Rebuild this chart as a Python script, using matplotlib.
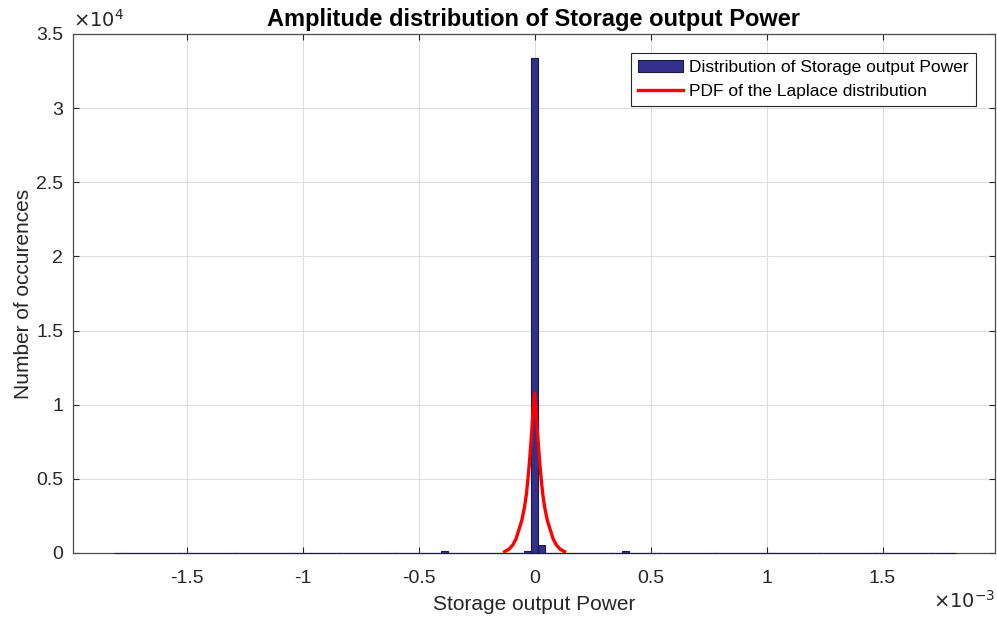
import matplotlib.pyplot as plt
import numpy as np
from matplotlib.ticker import FuncFormatter

plt.rcParams['font.family'] = ['Liberation Sans', 'DejaVu Sans']

# histogram: bins cover -1.8e-3 .. 1.8e-3, only a few are non-empty
hist_min = -1.8e-3
hist_max = 1.8e-3
bin_width = 0.03e-3
nonzero_centers = [-0.39e-3, -0.03e-3, 0.0, 0.03e-3, 0.39e-3]
nonzero_counts = [150, 150, 33350, 520, 160]

# Laplace PDF (scaled to counts)
laplace_x = [-0.129e-3, -0.110e-3, -0.094e-3, -0.080e-3, -0.068e-3, -0.055e-3,
             -0.043e-3, -0.035e-3, -0.029e-3, -0.023e-3, -0.017e-3, -0.012e-3,
             -0.007e-3, -0.003e-3, 0.0,
             0.003e-3, 0.007e-3, 0.012e-3, 0.017e-3, 0.023e-3, 0.029e-3,
             0.035e-3, 0.043e-3, 0.055e-3,
             0.068e-3, 0.080e-3, 0.094e-3, 0.110e-3, 0.129e-3]
laplace_y = [90, 260, 540, 950, 1550, 2200, 3120, 4000, 4920, 5950, 7170, 8250,
             9420, 10200, 10770,
             10200, 9420, 8250, 7170, 5950, 4920,
             4000, 3120, 2200, 1550, 950, 540, 260, 90]

n_bins = int(round((hist_max - hist_min) / bin_width)) + 1
centers = np.linspace(hist_min, hist_max, n_bins)
counts = np.zeros(n_bins)
for c, n in zip(nonzero_centers, nonzero_counts):
    counts[np.argmin(np.abs(centers - c))] = n

fig = plt.figure(figsize=(9.97, 6.18), dpi=100)
ax = fig.add_axes([0.0732, 0.1052, 0.9248, 0.8398])

bars = ax.bar(centers, counts, width=bin_width, color='#32308a',
              edgecolor='#1a1a40', linewidth=0.8, zorder=2.6, clip_on=False,
              label='Distribution of Storage output Power')
line, = ax.plot(laplace_x, laplace_y, color='red', linewidth=2.4,
                solid_joinstyle='round', zorder=3,
                label='PDF of the Laplace distribution')

ax.set_xlim(-1.99e-3, 1.985e-3)
ax.set_ylim(0, 3.5e4)
ax.set_xticks(np.arange(-1.5e-3, 1.51e-3, 0.5e-3))
ax.set_yticks(np.arange(0, 3.51e4, 0.5e4))
ax.xaxis.set_major_formatter(FuncFormatter(lambda v, p: f'{round(v / 1e-3, 3):g}'))
ax.yaxis.set_major_formatter(FuncFormatter(lambda v, p: f'{round(v / 1e4, 3):g}'))

ax.grid(True, color='#dedede', linewidth=0.8, zorder=0)
ax.set_axisbelow(True)
ax.tick_params(direction='in', top=True, right=True, length=4,
               labelsize=14, colors='#262626', labelcolor='#262626')
ax.tick_params(axis='x', pad=12)
ax.tick_params(axis='y', pad=7)
for s in ax.spines.values():
    s.set_color('#4d4d4d')
    s.set_linewidth(0.9)

ax.set_title('Amplitude distribution of Storage output Power',
             fontsize=17, fontweight='bold', pad=6)
ax.set_xlabel('Storage output Power', fontsize=15, color='#262626', labelpad=6)
ax.set_ylabel('Number of occurences', fontsize=15, color='#262626', labelpad=2)

ax.text(0.0, 1.006, r'$\times10^{4}$', transform=ax.transAxes,
        fontsize=14, va='bottom', ha='left', color='#262626',
        family='DejaVu Sans')
ax.text(1.0, -0.072, r'$\times10^{-3}$', transform=ax.transAxes,
        fontsize=14, va='top', ha='right', color='#262626',
        family='DejaVu Sans')

leg = ax.legend(handles=[bars, line], loc='upper right', fontsize=12.5,
                fancybox=False, framealpha=1, edgecolor='#262626',
                borderaxespad=1.1, handlelength=2.55, handletextpad=0.4,
                borderpad=0.4, labelspacing=0.5)
leg.get_frame().set_linewidth(0.8)

fig.savefig('out.png', dpi=100)
